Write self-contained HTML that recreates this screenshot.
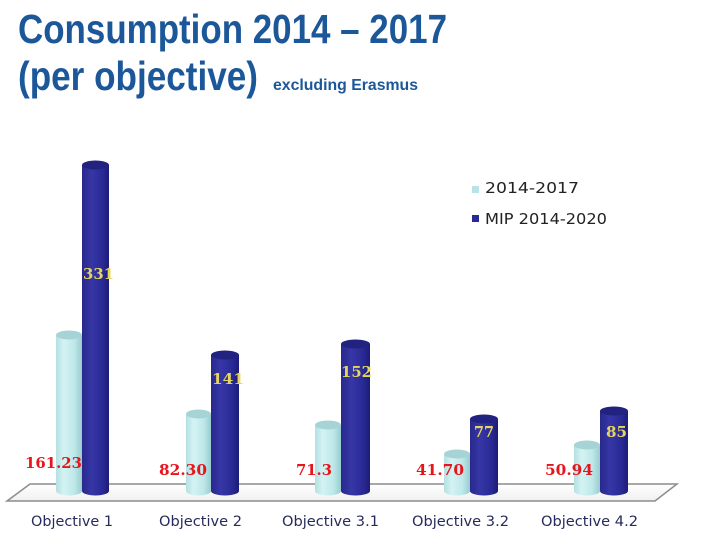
<!DOCTYPE html>
<html><head><meta charset="utf-8"><style>
html,body{margin:0;padding:0;background:#fff;}
svg{display:block;}
</style></head><body>
<svg width="716" height="553" viewBox="0 0 716 553" xmlns="http://www.w3.org/2000/svg">
<defs>
<linearGradient id="lg" x1="0" x2="1" y1="0" y2="0">
<stop offset="0" stop-color="#b4e0e2"/>
<stop offset="0.3" stop-color="#d4f3f3"/>
<stop offset="0.7" stop-color="#bfe8ea"/>
<stop offset="1" stop-color="#98cdd0"/>
</linearGradient>
<linearGradient id="dg" x1="0" x2="1" y1="0" y2="0">
<stop offset="0" stop-color="#28288c"/>
<stop offset="0.35" stop-color="#3636a6"/>
<stop offset="0.75" stop-color="#2a2a96"/>
<stop offset="1" stop-color="#1c1c78"/>
</linearGradient>
<linearGradient id="fl" x1="0" x2="0" y1="0" y2="1">
<stop offset="0" stop-color="#ffffff"/>
<stop offset="1" stop-color="#f0f0f0"/>
</linearGradient>
</defs>

<!-- Title -->
<text x="18" y="43" font-family="'Liberation Sans',sans-serif" font-weight="bold" font-size="41" fill="#1b5799" textLength="429" lengthAdjust="spacingAndGlyphs">Consumption 2014 – 2017</text>
<text x="18" y="90" font-family="'Liberation Sans',sans-serif" font-weight="bold" font-size="41" fill="#1b5799" textLength="240" lengthAdjust="spacingAndGlyphs">(per objective)</text>
<text x="273" y="90" font-family="'Liberation Sans',sans-serif" font-weight="bold" font-size="16" fill="#1b5799" textLength="145" lengthAdjust="spacingAndGlyphs">excluding Erasmus</text>

<!-- Floor -->
<polygon points="30,484 677,484 655,501 7,501" fill="url(#fl)" stroke="#8c8c8c" stroke-width="1.5"/>

<!-- Bars: Objective 1 -->
<g>
<rect x="56" y="335" width="26" height="156" fill="url(#lg)"/>
<ellipse cx="69" cy="491" rx="13" ry="4.5" fill="url(#lg)"/>
<ellipse cx="69" cy="335" rx="13" ry="4.5" fill="#a6d4d6"/>
<rect x="82" y="165" width="27" height="326" fill="url(#dg)"/>
<ellipse cx="95.5" cy="491" rx="13.5" ry="4.5" fill="url(#dg)"/>
<ellipse cx="95.5" cy="165" rx="13.5" ry="4.5" fill="#222280"/>
</g>
<!-- Objective 2 -->
<g>
<rect x="186" y="414" width="25" height="77" fill="url(#lg)"/>
<ellipse cx="198.5" cy="491" rx="12.5" ry="4.5" fill="url(#lg)"/>
<ellipse cx="198.5" cy="414" rx="12.5" ry="4.5" fill="#a6d4d6"/>
<rect x="211" y="355" width="28" height="136" fill="url(#dg)"/>
<ellipse cx="225" cy="491" rx="14" ry="4.5" fill="url(#dg)"/>
<ellipse cx="225" cy="355" rx="14" ry="4.5" fill="#222280"/>
</g>
<!-- Objective 3.1 -->
<g>
<rect x="315" y="425" width="26" height="66" fill="url(#lg)"/>
<ellipse cx="328" cy="491" rx="13" ry="4.5" fill="url(#lg)"/>
<ellipse cx="328" cy="425" rx="13" ry="4.5" fill="#a6d4d6"/>
<rect x="341" y="344" width="29" height="147" fill="url(#dg)"/>
<ellipse cx="355.5" cy="491" rx="14.5" ry="4.5" fill="url(#dg)"/>
<ellipse cx="355.5" cy="344" rx="14.5" ry="4.5" fill="#222280"/>
</g>
<!-- Objective 3.2 -->
<g>
<rect x="444" y="454" width="26" height="37" fill="url(#lg)"/>
<ellipse cx="457" cy="491" rx="13" ry="4.5" fill="url(#lg)"/>
<ellipse cx="457" cy="454" rx="13" ry="4.5" fill="#a6d4d6"/>
<rect x="470" y="419" width="28" height="72" fill="url(#dg)"/>
<ellipse cx="484" cy="491" rx="14" ry="4.5" fill="url(#dg)"/>
<ellipse cx="484" cy="419" rx="14" ry="4.5" fill="#222280"/>
</g>
<!-- Objective 4.2 -->
<g>
<rect x="574" y="445" width="26" height="46" fill="url(#lg)"/>
<ellipse cx="587" cy="491" rx="13" ry="4.5" fill="url(#lg)"/>
<ellipse cx="587" cy="445" rx="13" ry="4.5" fill="#a6d4d6"/>
<rect x="600" y="411" width="28" height="80" fill="url(#dg)"/>
<ellipse cx="614" cy="491" rx="14" ry="4.5" fill="url(#dg)"/>
<ellipse cx="614" cy="411" rx="14" ry="4.5" fill="#222280"/>
</g>

<!-- Red value labels -->
<g font-family="'DejaVu Serif','Liberation Serif',serif" font-weight="bold" font-size="15" fill="#e8141c">
<text x="25" y="468" textLength="57" lengthAdjust="spacingAndGlyphs">161.23</text>
<text x="159" y="475" textLength="48" lengthAdjust="spacingAndGlyphs">82.30</text>
<text x="296" y="475" textLength="36" lengthAdjust="spacingAndGlyphs">71.3</text>
<text x="416" y="475" textLength="48" lengthAdjust="spacingAndGlyphs">41.70</text>
<text x="545" y="475" textLength="48" lengthAdjust="spacingAndGlyphs">50.94</text>
</g>
<!-- Yellow value labels -->
<g font-family="'DejaVu Serif','Liberation Serif',serif" font-weight="bold" font-size="15" fill="#e6d65e">
<text x="83" y="279" textLength="31" lengthAdjust="spacingAndGlyphs">331</text>
<text x="212" y="384" textLength="32" lengthAdjust="spacingAndGlyphs">141</text>
<text x="341" y="377" textLength="31" lengthAdjust="spacingAndGlyphs">152</text>
<text x="474" y="437" textLength="20" lengthAdjust="spacingAndGlyphs">77</text>
<text x="606" y="437" textLength="21" lengthAdjust="spacingAndGlyphs">85</text>
</g>

<!-- Axis labels -->
<g font-family="'DejaVu Sans','Liberation Sans',sans-serif" font-size="14" fill="#262a5c">
<text x="31" y="526" textLength="82" lengthAdjust="spacingAndGlyphs">Objective 1</text>
<text x="159" y="526" textLength="83" lengthAdjust="spacingAndGlyphs">Objective 2</text>
<text x="282" y="526" textLength="97" lengthAdjust="spacingAndGlyphs">Objective 3.1</text>
<text x="412" y="526" textLength="97" lengthAdjust="spacingAndGlyphs">Objective 3.2</text>
<text x="541" y="526" textLength="97" lengthAdjust="spacingAndGlyphs">Objective 4.2</text>
</g>

<!-- Legend -->
<rect x="472" y="186" width="7" height="7" fill="#b8e2e4"/>
<rect x="472" y="215" width="7" height="7" fill="#2a2a96"/>
<g font-family="'DejaVu Sans','Liberation Sans',sans-serif" font-size="15" fill="#222">
<text x="485" y="193" textLength="94" lengthAdjust="spacingAndGlyphs">2014-2017</text>
<text x="485" y="224" textLength="122" lengthAdjust="spacingAndGlyphs">MIP 2014-2020</text>
</g>
</svg>
</body></html>
